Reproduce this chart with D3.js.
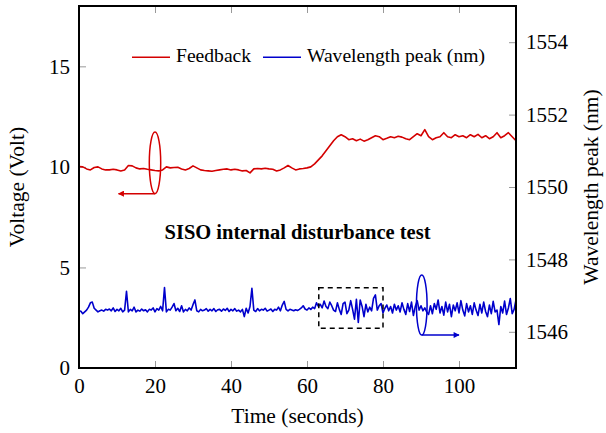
<!DOCTYPE html>
<html>
<head>
<meta charset="utf-8">
<script src="https://cdn.jsdelivr.net/npm/d3@7"></script>
<style>
  body { margin: 0; background: #fff; }
</style>
</head>
<body>
<div id="chart"></div>
<script>
// Feedback voltage (V), sampled every 1 s from 0 to 115 s
const feedbackStep = 1;
const feedback = [
  10.02, 10.0, 9.9, 9.85, 9.97, 10.0, 9.9, 9.85, 9.85, 9.88,
  9.85, 9.8, 9.85, 10.07, 10.05, 9.95, 9.9, 9.92, 9.88, 9.85,
  9.82, 9.8, 9.85, 10.0, 9.95, 9.97, 9.98, 9.9, 9.85, 9.92,
  10.05, 9.95, 9.85, 9.82, 9.8, 9.78, 9.82, 9.85, 9.88, 9.9,
  9.85, 9.88, 9.85, 9.8, 9.82, 9.7, 9.9, 9.92, 9.9, 9.93,
  9.9, 9.88, 9.8, 9.85, 9.95, 10.07, 9.95, 9.85, 9.9, 9.92,
  9.95, 10.0, 10.15, 10.35, 10.55, 10.8, 11.05, 11.3, 11.5, 11.6,
  11.5, 11.35, 11.4, 11.3, 11.38, 11.28, 11.35, 11.45, 11.55, 11.5,
  11.35, 11.42, 11.5, 11.45, 11.52, 11.48, 11.4, 11.35, 11.5, 11.65,
  11.55, 11.85, 11.5, 11.35, 11.45, 11.5, 11.7, 11.5, 11.45, 11.6,
  11.5, 11.55, 11.45, 11.6, 11.5, 11.62, 11.45, 11.55, 11.4, 11.5,
  11.7, 11.45, 11.55, 11.7, 11.5, 11.3
];

// Wavelength peak (nm), sampled every 0.5 s from 0 to 115 s
const wavelengthStep = 0.5;
const wavelength = [
  1546.58, 1546.57, 1546.50, 1546.55, 1546.60, 1546.68, 1546.80, 1546.82, 1546.65, 1546.60,
  1546.55, 1546.58, 1546.60, 1546.57, 1546.62, 1546.60, 1546.63, 1546.58, 1546.66, 1546.56,
  1546.62, 1546.58, 1546.65, 1546.55, 1546.60, 1547.12, 1546.55, 1546.62, 1546.58, 1546.68,
  1546.55, 1546.60, 1546.57, 1546.63, 1546.58, 1546.61, 1546.55, 1546.62, 1546.60, 1546.66,
  1546.55, 1546.64, 1546.60, 1546.70, 1546.58, 1547.22, 1546.55, 1546.62, 1546.60, 1546.68,
  1546.78, 1546.58, 1546.65, 1546.56, 1546.72, 1546.55, 1546.62, 1546.58, 1546.66, 1546.60,
  1546.75, 1546.88, 1546.58, 1546.55, 1546.62, 1546.58, 1546.60, 1546.64, 1546.57, 1546.62,
  1546.58, 1546.64, 1546.56, 1546.61, 1546.62, 1546.57, 1546.63, 1546.59, 1546.65, 1546.56,
  1546.62, 1546.58, 1546.64, 1546.57, 1546.60, 1546.55, 1546.62, 1546.42, 1546.65, 1546.52,
  1546.70, 1547.20, 1546.60, 1546.56, 1546.64, 1546.58, 1546.62, 1546.60, 1546.65, 1546.57,
  1546.60, 1546.63, 1546.56, 1546.62, 1546.60, 1546.68, 1546.58, 1546.74, 1546.84, 1546.62,
  1546.58, 1546.62, 1546.60, 1546.58, 1546.61, 1546.59, 1546.62, 1546.66, 1546.72, 1546.63,
  1546.60, 1546.66, 1546.62, 1546.68, 1546.64, 1546.80, 1546.70, 1546.76, 1546.66, 1546.85,
  1546.70, 1546.64, 1546.82, 1546.72, 1546.60, 1546.56, 1546.80, 1546.62, 1546.48, 1546.78,
  1546.82, 1546.50, 1546.60, 1546.86, 1546.62, 1546.35, 1546.90, 1546.26, 1546.88, 1546.70,
  1546.42, 1546.76, 1546.55, 1546.68, 1546.58, 1546.92, 1547.02, 1546.60, 1546.72, 1546.78,
  1546.52, 1546.65, 1546.74, 1546.58, 1546.70, 1546.52, 1546.76, 1546.60, 1546.72, 1546.55,
  1546.80, 1546.62, 1546.48, 1546.78, 1546.56, 1546.82, 1546.45, 1546.70, 1546.86, 1546.60,
  1546.72, 1546.58, 1546.66, 1546.55, 1546.48, 1546.72, 1546.50, 1546.78, 1546.62, 1546.88,
  1546.52, 1546.70, 1546.46, 1546.82, 1546.55, 1546.76, 1546.42, 1546.74, 1546.58, 1546.80,
  1546.52, 1546.86, 1546.60, 1546.44, 1546.78, 1546.55, 1546.72, 1546.48, 1546.80, 1546.60,
  1546.45, 1546.76, 1546.52, 1546.82, 1546.56, 1546.42, 1546.74, 1546.50, 1546.84, 1546.55,
  1546.60, 1546.20, 1546.70, 1546.52, 1546.85, 1546.48, 1546.66, 1546.92, 1546.50, 1546.62,
  1546.88
];

// tick labels
const timeTicks = [0, 20, 40, 60, 80, 100];
const voltTicks = [0, 5, 10, 15];
const waveTicks = [1546, 1548, 1550, 1552, 1554];

const seriesNames = ["Feedback", "Wavelength peak (nm)"];
const colors = ["#d40000", "#0000cc"];

const serif = "'Liberation Serif', 'DejaVu Serif', serif";

var margin = {top: 6, right: 90, bottom: 65, left: 79},
    width = 606 - margin.left - margin.right,
    height = 433 - margin.top - margin.bottom;

var svg = d3.select("#chart")
  .append("svg")
  .attr("width", 606)
  .attr("height", 433)
  .append("g")
  .attr("transform", "translate(" + margin.left + "," + margin.top + ")");

var x = d3.scaleLinear().domain([0, 115]).range([0, width]);
var yV = d3.scaleLinear().domain([0, 18]).range([height, 0]);
var yW = d3.scaleLinear().domain([1545, 1555]).range([height, 0]);

// arrow heads
var defs = svg.append("defs");
colors.forEach(function(c, i) {
  defs.append("marker")
    .attr("id", "arrow" + i)
    .attr("viewBox", "0 0 10 10")
    .attr("refX", 9).attr("refY", 5)
    .attr("markerWidth", 8).attr("markerHeight", 6)
    .attr("markerUnits", "userSpaceOnUse")
    .attr("orient", "auto")
    .append("path")
    .attr("d", "M0,0 L10,5 L0,10 z")
    .attr("fill", c);
});

// ticks (pointing inward, no labels on top)
function styleTicks(g) {
  g.attr("font-family", serif).attr("font-size", 21);
  g.select(".domain").remove();
  g.selectAll(".tick line").attr("stroke", "#999").attr("stroke-width", 1);
  g.selectAll(".tick text").attr("fill", "#000");
}

svg.append("g")
  .attr("transform", "translate(0," + height + ")")
  .call(d3.axisBottom(x).tickValues(timeTicks).tickSize(-7).tickPadding(10))
  .call(styleTicks);

svg.append("g")
  .call(d3.axisTop(x).tickValues(timeTicks).tickSize(-7).tickFormat(""))
  .call(styleTicks);

svg.append("g")
  .call(d3.axisLeft(yV).tickValues(voltTicks).tickSize(-7).tickPadding(9))
  .call(styleTicks);

svg.append("g")
  .attr("transform", "translate(" + width + ",0)")
  .call(d3.axisRight(yW).tickValues(waveTicks).tickSize(-7).tickPadding(10).tickFormat(d3.format("d")))
  .call(styleTicks);

// data lines
var lineV = d3.line()
  .x(function(d, i) { return x(i * feedbackStep); })
  .y(function(d) { return yV(d); });

var lineW = d3.line()
  .x(function(d, i) { return x(i * wavelengthStep); })
  .y(function(d) { return yW(d); });

svg.append("path")
  .datum(feedback)
  .attr("d", lineV)
  .attr("fill", "none")
  .attr("stroke", colors[0])
  .attr("stroke-width", 1.6)
  .attr("stroke-linejoin", "round");

svg.append("path")
  .datum(wavelength)
  .attr("d", lineW)
  .attr("fill", "none")
  .attr("stroke", colors[1])
  .attr("stroke-width", 1.6)
  .attr("stroke-linejoin", "round");

// annotation: red ellipse + arrow to the left axis
svg.append("ellipse")
  .attr("cx", x(20)).attr("cy", yV(10.2))
  .attr("rx", x(1.5) - x(0)).attr("ry", yV(10.2) - yV(11.73))
  .attr("fill", "none").attr("stroke", colors[0]).attr("stroke-width", 1.5);

svg.append("line")
  .attr("x1", x(20)).attr("y1", yV(8.67))
  .attr("x2", x(10.4)).attr("y2", yV(8.67))
  .attr("stroke", colors[0]).attr("stroke-width", 1.5)
  .attr("marker-end", "url(#arrow0)");

// annotation: blue ellipse + arrow to the right axis
svg.append("ellipse")
  .attr("cx", x(90.2)).attr("cy", yW(1546.74))
  .attr("rx", x(1.4) - x(0)).attr("ry", yW(1546.74) - yW(1547.57))
  .attr("fill", "none").attr("stroke", colors[1]).attr("stroke-width", 1.5);

svg.append("line")
  .attr("x1", x(90.2)).attr("y1", yW(1545.91))
  .attr("x2", x(100)).attr("y2", yW(1545.91))
  .attr("stroke", colors[1]).attr("stroke-width", 1.5)
  .attr("marker-end", "url(#arrow1)");

// dashed box around the disturbance
svg.append("rect")
  .attr("x", x(63.1)).attr("y", yW(1547.22))
  .attr("width", x(80) - x(63.1))
  .attr("height", yW(1546.1) - yW(1547.22))
  .attr("fill", "none").attr("stroke", "#000")
  .attr("stroke-width", 1.5).attr("stroke-dasharray", "5,4");

// frame
svg.append("rect")
  .attr("width", width).attr("height", height)
  .attr("fill", "none").attr("stroke", "#000").attr("stroke-width", 2);

// legend
var legendX = [53, 184];
seriesNames.forEach(function(name, i) {
  svg.append("line")
    .attr("x1", legendX[i]).attr("x2", legendX[i] + 38)
    .attr("y1", 51.3).attr("y2", 51.3)
    .attr("stroke", colors[i]).attr("stroke-width", 1.5);
  svg.append("text")
    .attr("x", legendX[i] + 44).attr("y", 55.7)
    .attr("font-family", serif).attr("font-size", 19.6)
    .text(name);
});

// inner title
svg.append("text")
  .attr("x", width / 2).attr("y", 232.5)
  .attr("text-anchor", "middle")
  .attr("font-family", serif).attr("font-size", 20.5).attr("font-weight", "bold")
  .text("SISO internal disturbance test");

// axis labels
svg.append("text")
  .attr("x", width / 2).attr("y", height + 55)
  .attr("text-anchor", "middle")
  .attr("font-family", serif).attr("font-size", 21.5)
  .text("Time (seconds)");

svg.append("text")
  .attr("transform", "translate(-55," + (height / 2) + ") rotate(-90)")
  .attr("text-anchor", "middle")
  .attr("font-family", serif).attr("font-size", 21.5)
  .text("Voltage (Volt)");

svg.append("text")
  .attr("transform", "translate(" + (width + 82) + "," + (height / 2) + ") rotate(-90)")
  .attr("text-anchor", "middle")
  .attr("font-family", serif).attr("font-size", 21.5)
  .text("Wavelength peak (nm)");
</script>
</body>
</html>
